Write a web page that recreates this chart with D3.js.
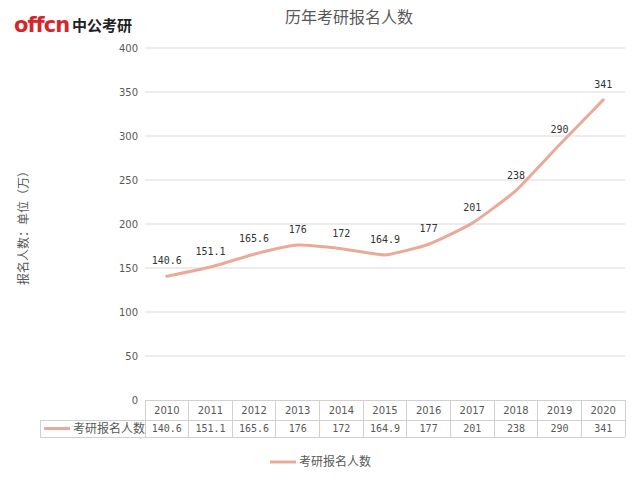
<!DOCTYPE html>
<html><head><meta charset="utf-8">
<script src="https://cdn.jsdelivr.net/npm/d3@7"></script>
<style>body{margin:0;background:#fff;}svg{display:block;}</style>
</head><body>
<svg id="c" width="640" height="480"></svg>
<script>
const years = ["2010","2011","2012","2013","2014","2015","2016","2017","2018","2019","2020"];
const values = [140.6,151.1,165.6,176,172,164.9,177,201,238,290,341];
const valueLabels = ["140.6","151.1","165.6","176","172","164.9","177","201","238","290","341"];
const yTicks = [0,50,100,150,200,250,300,350,400];
const seriesName = "考研报名人数";
const title = "历年考研报名人数";
const yTitle = "报名人数：单位（万）";

(function(){
const svg = d3.select("#c");
const pL = 145, pR = 625, pT = 48, pB = 400;
const font = "'Noto Sans CJK SC', 'DejaVu Sans', sans-serif";
const lineColor = "#EBAA98";
const gridColor = "#d9d9d9";
const textColor = "#595959";

const x = d3.scaleBand().domain(years).range([pL, pR]);
const y = d3.scaleLinear().domain([0, 400]).range([pB, pT]);

// logo
svg.append("text").attr("x", 14).attr("y", 32).attr("font-family", "'DejaVu Sans', sans-serif")
  .text("offcn").attr("fill", "#d7262b").attr("font-size", 21).attr("font-weight", "bold").attr("letter-spacing", -1);
svg.append("text").attr("x", 72).attr("y", 31).text("中公考研").attr("font-family", font).attr("font-size", 15).attr("font-weight", "bold").attr("fill", "#222");

// title
svg.append("text").attr("x", 349).attr("y", 23).attr("text-anchor", "middle").text(title)
  .attr("font-family", font).attr("font-size", 16).attr("fill", textColor);

// grid
svg.append("g").selectAll("line").data(yTicks.filter(d => d > 0)).join("line")
  .attr("x1", pL).attr("x2", pR).attr("y1", d => y(d)).attr("y2", d => y(d))
  .attr("stroke", gridColor).attr("stroke-width", 1);

// y axis labels
svg.append("g").selectAll("text").data(yTicks).join("text")
  .attr("x", 138).attr("y", d => y(d) + 4).attr("text-anchor", "end")
  .text(d => d).attr("font-family", "'DejaVu Sans', sans-serif").attr("font-size", 10).attr("fill", textColor);

// y title
svg.append("text").attr("transform", `translate(28,225) rotate(-90)`).attr("text-anchor", "middle")
  .text(yTitle).attr("font-family", font).attr("font-size", 12).attr("fill", textColor);

// line
const cx = d => x(d) + x.bandwidth() / 2;
const line = d3.line().x((d, i) => cx(years[i])).y(d => y(d)).curve(d3.curveCardinal.tension(0.5));
svg.append("path").datum(values).attr("d", line).attr("fill", "none")
  .attr("stroke", lineColor).attr("stroke-width", 3).attr("stroke-linecap", "round");

// data labels
svg.append("g").selectAll("text").data(values).join("text")
  .attr("x", (d, i) => cx(years[i])).attr("y", d => y(d) - 12).attr("text-anchor", "middle")
  .text((d, i) => valueLabels[i]).attr("font-family", "'DejaVu Sans Mono', monospace").attr("font-size", 10).attr("fill", "#333");

// table
const tTop = 400, tMid = 420, tBot = 437, tLeft = 40;
const tg = svg.append("g").attr("stroke", "#d0d0d0").attr("stroke-width", 1).attr("shape-rendering", "crispEdges");
tg.append("line").attr("x1", pL).attr("x2", pR).attr("y1", tTop).attr("y2", tTop);
tg.append("line").attr("x1", tLeft).attr("x2", pR).attr("y1", tMid).attr("y2", tMid);
tg.append("line").attr("x1", tLeft).attr("x2", pR).attr("y1", tBot).attr("y2", tBot);
tg.append("line").attr("x1", tLeft).attr("x2", tLeft).attr("y1", tMid).attr("y2", tBot);
const bounds = years.map(d => x(d)).concat([pR]);
tg.selectAll("line.v").data(bounds).join("line").attr("class", "v")
  .attr("x1", d => d).attr("x2", d => d).attr("y1", tTop).attr("y2", tBot);

svg.append("g").selectAll("text").data(years).join("text")
  .attr("x", d => cx(d)).attr("y", 414).attr("text-anchor", "middle").text(d => d)
  .attr("font-family", "'DejaVu Sans', sans-serif").attr("font-size", 10).attr("fill", textColor);
svg.append("g").selectAll("text").data(values).join("text")
  .attr("x", (d, i) => cx(years[i])).attr("y", 432).attr("text-anchor", "middle").text((d, i) => valueLabels[i])
  .attr("font-family", "'DejaVu Sans Mono', monospace").attr("font-size", 10).attr("fill", textColor);

svg.append("line").attr("x1", 44).attr("x2", 70).attr("y1", 428.5).attr("y2", 428.5).attr("stroke", lineColor).attr("stroke-width", 3);
svg.append("text").attr("x", 73).attr("y", 433).text(seriesName).attr("font-family", font).attr("font-size", 12).attr("fill", textColor);

// legend
svg.append("line").attr("x1", 270).attr("x2", 296).attr("y1", 462).attr("y2", 462).attr("stroke", lineColor).attr("stroke-width", 3);
svg.append("text").attr("x", 299).attr("y", 466).text(seriesName).attr("font-family", font).attr("font-size", 12).attr("fill", textColor);
})();
</script>
</body></html>
